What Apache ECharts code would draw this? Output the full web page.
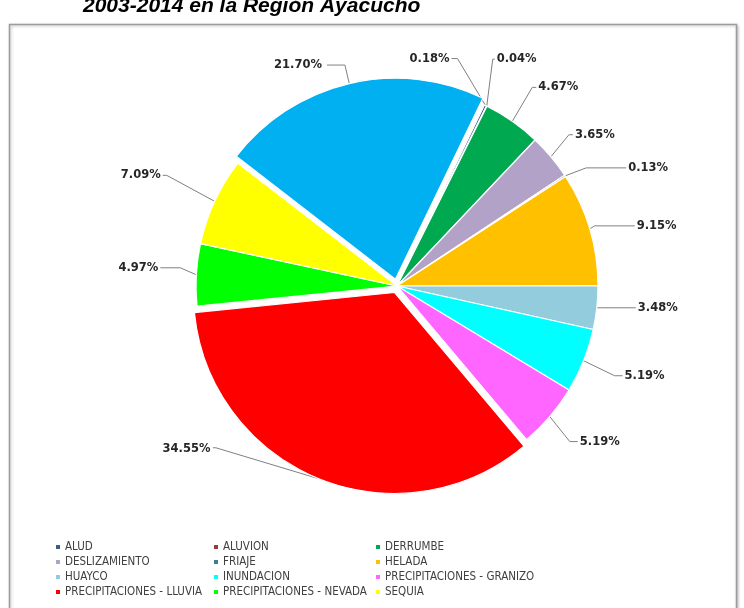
<!DOCTYPE html>
<html>
<head>
<meta charset="utf-8">
<script src="https://cdn.jsdelivr.net/npm/echarts@6/dist/echarts.min.js"></script>
<style>
  html, body { margin: 0; padding: 0; background: #ffffff; }
  #chart { width: 744px; height: 608px; }
</style>
</head>
<body>
<div id="chart"></div>
<script>
// Emergencias por tipo de fenómeno, participación porcentual
const categories = [
  'ALUD', 'ALUVION', 'DERRUMBE', 'DESLIZAMIENTO', 'FRIAJE', 'HELADA',
  'HUAYCO', 'INUNDACION', 'PRECIPITACIONES - GRANIZO', 'PRECIPITACIONES - LLUVIA',
  'PRECIPITACIONES - NEVADA', 'SEQUIA', 'VIENTOS FUERTES'
];
const shares = [0.18, 0.04, 4.67, 3.65, 0.13, 9.15, 3.48, 5.19, 5.19, 34.55, 4.97, 7.09, 21.70];
const sliceColors = [
  '#3f5b8c', '#9b3b38', '#00a850', '#b3a2c7', '#3e7f8f', '#ffc000',
  '#93cddd', '#00ffff', '#ff66ff', '#ff0000', '#00ff00', '#ffff00', '#00b0f0'
];
const pulledOut = ['PRECIPITACIONES - LLUVIA', 'VIENTOS FUERTES'];
const legendColumns = [
  ['ALUD', 'DESLIZAMIENTO', 'HUAYCO', 'PRECIPITACIONES - LLUVIA'],
  ['ALUVION', 'FRIAJE', 'INUNDACION', 'PRECIPITACIONES - NEVADA'],
  ['DERRUMBE', 'HELADA', 'PRECIPITACIONES - GRANIZO', 'SEQUIA']
];
const titleText = '2003-2014 en la Región Ayacucho';

const pct = v => v.toFixed(2) + '%';

// Label placement relative to each slice's outer edge point:
// [dx, dy, side, horizontal run of the leader line, text placed by the pie layout]
const labelSpots = [
  [-36, -47, 'left', 6],
  [10, -47, 'right', 2],
  [26, -34, 'right', 4],
  [24, -22, 'right', 4],
  [63, -8, 'right', 40],
  [47, -3, 'right', 40],
  [41, 0, 'right', 35],
  [41, 15, 'right', 8],
  [30, 25, 'right', 8],
  [-108, -31, 'left', 3, true],
  [-38, -7, 'left', 20],
  [-54, -26, 'left', 4],
  null
];
const GAP = 2;

// Pulled-out slices keep the pie's own label placement; the LLUVIA text is
// lifted above its anchor with blank trailing lines (middle-aligned block).
const labelOverrides = {
  'PRECIPITACIONES - LLUVIA': {
    label: { formatter: p => pct(p.value) + '\n \n \n \n ', lineHeight: 15.5 },
    labelLine: { length: 1, length2: 103 }
  },
  'VIENTOS FUERTES': {
    labelLine: { length: 19, length2: 18 }
  }
};

const chart = echarts.init(document.getElementById('chart'), null, { renderer: 'canvas' });

const pieData = categories.map((name, i) => Object.assign({
  name: name,
  value: shares[i],
  selected: pulledOut.indexOf(name) >= 0,
  itemStyle: { color: sliceColors[i] }
}, labelOverrides[name] || {}));

const legends = legendColumns.map((col, k) => ({
  data: col,
  orient: 'vertical',
  left: [54, 212, 374][k],
  top: 541,
  padding: 0,
  itemGap: 3,
  itemWidth: 6,
  itemHeight: 6,
  icon: 'rect',
  selectedMode: false,
  textStyle: {
    fontFamily: '"Liberation Sans Narrow", "Arial Narrow", "DejaVu Sans Condensed", sans-serif',
    fontSize: 11.5,
    color: '#404040',
    lineHeight: 12,
    padding: [0, 0, 0, -1]
  }
}));

chart.setOption({
  animation: false,
  legend: legends,
  graphic: [
    {
      type: 'rect',
      z: -10,
      shape: { x: 9.5, y: 24.5, width: 727, height: 700 },
      style: {
        fill: '#ffffff',
        stroke: '#9c9c9c',
        lineWidth: 1.5,
        shadowBlur: 3,
        shadowOffsetX: 1,
        shadowOffsetY: 1,
        shadowColor: 'rgba(0,0,0,0.25)'
      }
    },
    {
      type: 'text',
      z: 10,
      x: 83,
      y: 17,
      style: {
        text: titleText,
        font: 'italic bold 21px "Liberation Sans"',
        fill: '#000000',
        verticalAlign: 'bottom'
      }
    }
  ],
  series: [{
    type: 'pie',
    center: [397, 286],
    radius: 201,
    startAngle: 64.2,
    clockwise: true,
    selectedMode: 'multiple',
    selectedOffset: 7,
    avoidLabelOverlap: false,
    itemStyle: { borderColor: '#ffffff', borderWidth: 1.2 },
    emphasis: { disabled: true },
    select: { itemStyle: { borderColor: '#ffffff', borderWidth: 1.2 } },
    label: {
      show: true,
      position: 'outside',
      formatter: p => pct(p.value),
      fontFamily: 'DejaVu Sans',
      fontWeight: 'bold',
      fontSize: 11.5,
      color: '#262626'
    },
    labelLine: {
      show: true,
      length: 10,
      length2: 10,
      lineStyle: { color: '#808080', width: 1 }
    },
    labelLayout: function (params) {
      const spot = labelSpots[params.dataIndex];
      const pts = params.labelLinePoints;
      if (!spot || !pts) return {};
      const a = pts[0];
      const tx = a[0] + spot[0];
      const ty = a[1] + spot[1];
      const sign = spot[2] === 'left' ? -1 : 1;
      const end = [tx - sign * GAP, ty];
      const elbow = [tx - sign * (GAP + spot[3]), ty];
      const line = [[a[0], a[1]], elbow, end];
      if (spot[4]) return { labelLinePoints: line };
      return {
        x: tx,
        y: ty,
        align: spot[2] === 'left' ? 'right' : 'left',
        verticalAlign: 'middle',
        labelLinePoints: line
      };
    },
    data: pieData
  }]
});
</script>
</body>
</html>
